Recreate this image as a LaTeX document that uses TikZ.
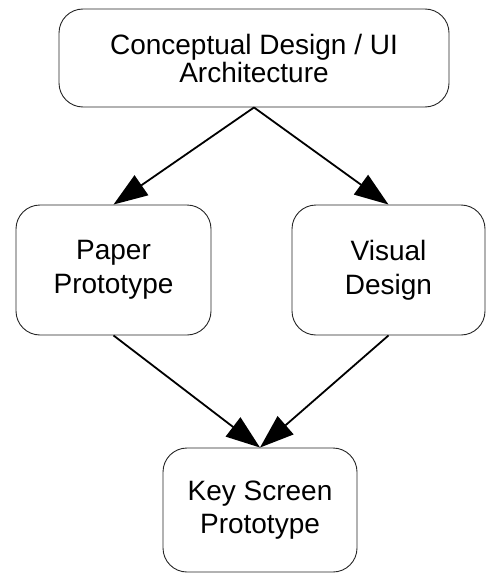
\documentclass[tikz,border=0pt]{standalone}
\usepackage{fontspec}
\setmainfont{Liberation Sans}
\usetikzlibrary{arrows.meta}
\begin{document}
\begin{tikzpicture}[x=1pt,y=-1pt,
  box/.style={draw=black!85, line width=0.9pt, rounded corners=24pt,
    align=center, inner sep=0pt, font=\fontsize{28}{28}\selectfont},
  flow/.style={line width=1.8pt, -{Triangle[length=34pt,width=24pt]}}]
\useasboundingbox (0,0) rectangle (488,575);

% stages of the design process
\node[box, minimum width=390pt, minimum height=98pt] (concept) at (254,58)
  {Conceptual Design / UI\\Architecture};
\node[box, minimum width=195pt, minimum height=130pt] (paper) at (113.5,270)
  {Paper\\[6pt]Prototype};
\node[box, minimum width=193pt, minimum height=130pt] (visual) at (388.5,270)
  {Visual\\[6pt]Design};
\node[box, minimum width=194pt, minimum height=124pt] (key) at (260,510)
  {Key Screen\\[5pt]Prototype};

% flow between stages
\draw[flow] (concept.south) -- (paper.north);
\draw[flow] (concept.south) -- (visual.north);
\draw[flow] (paper.south) -- (key.north);
\draw[flow] (visual.south) -- (key.north);
\end{tikzpicture}
\end{document}
